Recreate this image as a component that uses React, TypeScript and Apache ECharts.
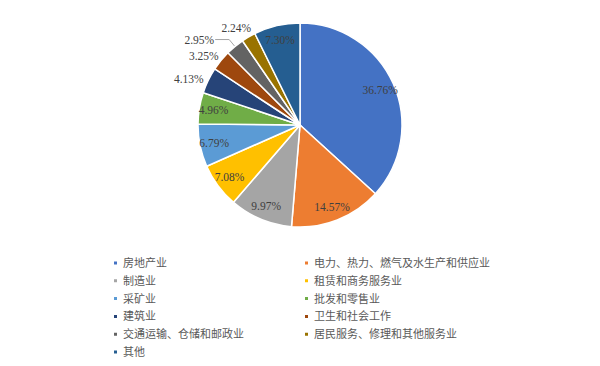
import React, { useEffect, useRef } from "react";
import * as echarts from "echarts";

const categories = [
  "房地产业",
  "电力、热力、燃气及水生产和供应业",
  "制造业",
  "租赁和商务服务业",
  "采矿业",
  "批发和零售业",
  "建筑业",
  "卫生和社会工作",
  "交通运输、仓储和邮政业",
  "居民服务、修理和其他服务业",
  "其他",
];
const values = [36.76, 14.57, 9.97, 7.08, 6.79, 4.96, 4.13, 3.25, 2.95, 2.24, 7.3];
const colors = [
  "#4472C4",
  "#ED7D31",
  "#A5A5A5",
  "#FFC000",
  "#5B9BD5",
  "#70AD47",
  "#264478",
  "#9E480E",
  "#636363",
  "#997300",
  "#255E91",
];
// label placement kinds: in = inside, out = outside (far), line = outside with leader line
const labelKind = ["in", "in", "in", "in", "in", "in", "out", "out", "line", "out", "in"];

const SERIF = "'Liberation Serif', 'Times New Roman', serif";
const LEGEND_FONT = "'Liberation Serif', 'Noto Sans CJK SC', serif";

export default function App() {
  const ref = useRef<HTMLDivElement>(null);
  useEffect(() => {
    if (!ref.current) return;
    const chart = echarts.init(ref.current, null, { renderer: "svg" });
    const center = [300, 125];
    const R = 102;
    const labelStyle = {
      fontFamily: SERIF,
      fontSize: 11.5,
      color: "#404040",
    };
    const fmt = (p: any) => p.value.toFixed(2) + "%";

    const mainData = categories.map((name, i) => ({
      name,
      value: values[i],
      itemStyle: { color: colors[i] },
    }));

    const hiddenData = (kind: string) =>
      categories.map((name, i) => ({
        name,
        value: values[i],
        itemStyle: { color: "rgba(0,0,0,0)" },
        label: { show: labelKind[i] === kind },
        labelLine: { show: labelKind[i] === kind },
      }));

    const legendItems = (parity: number) =>
      categories
        .map((name, i) => ({ name, i }))
        .filter((d) => d.i % 2 === parity)
        .map((d) => ({ name: d.name, itemStyle: { color: colors[d.i] } }));

    const legendCommon = {
      orient: "vertical",
      top: 257,
      height: 108,
      padding: 0,
      itemWidth: 5,
      itemHeight: 5,
      itemGap: 5.8,
      icon: "rect",
      selectedMode: false,
      textStyle: {
        fontFamily: LEGEND_FONT,
        fontSize: 11,
        lineHeight: 12,
        color: "#595959",
      },
    };

    chart.setOption({
      animation: false,
      backgroundColor: "#ffffff",
      legend: [
        { ...legendCommon, left: 112, data: legendItems(0) },
        { ...legendCommon, left: 303, data: legendItems(1) },
      ],
      series: [
        {
          type: "pie",
          center,
          radius: [0, R],
          startAngle: 90,
          clockwise: true,
          silent: true,
          label: { show: false },
          labelLine: { show: false },
          itemStyle: { borderColor: "#ffffff", borderWidth: 1.5 },
          data: mainData,
        },
        {
          type: "pie",
          center,
          radius: [0, R],
          startAngle: 90,
          clockwise: true,
          silent: true,
          avoidLabelOverlap: false,
          labelLayout: { hideOverlap: false },
          label: {
            position: "outside",
            ...labelStyle,
            formatter: fmt,
            distanceToLabelLine: 1,
          },
          labelLine: {
            length: 9,
            length2: 14,
            lineStyle: { color: "#A6A6A6", width: 1 },
          },
          data: hiddenData("line"),
        },
        {
          type: "pie",
          center,
          radius: [0, R * 1.66],
          startAngle: 90,
          clockwise: true,
          silent: true,
          avoidLabelOverlap: false,
          labelLayout: { hideOverlap: false },
          label: { position: "inside", ...labelStyle, formatter: fmt },
          labelLine: { show: false },
          data: hiddenData("in"),
        },
        {
          type: "pie",
          center,
          radius: [0, R * 2.3],
          startAngle: 90,
          clockwise: true,
          silent: true,
          avoidLabelOverlap: false,
          labelLayout: { hideOverlap: false },
          label: { position: "inside", ...labelStyle, formatter: fmt, offset: [-3, 7] },
          labelLine: { show: false },
          data: hiddenData("out"),
        },
      ],
    });
    return () => chart.dispose();
  }, []);
  return <div ref={ref} style={{ width: 600, height: 366, margin: -8 }} />;
}
